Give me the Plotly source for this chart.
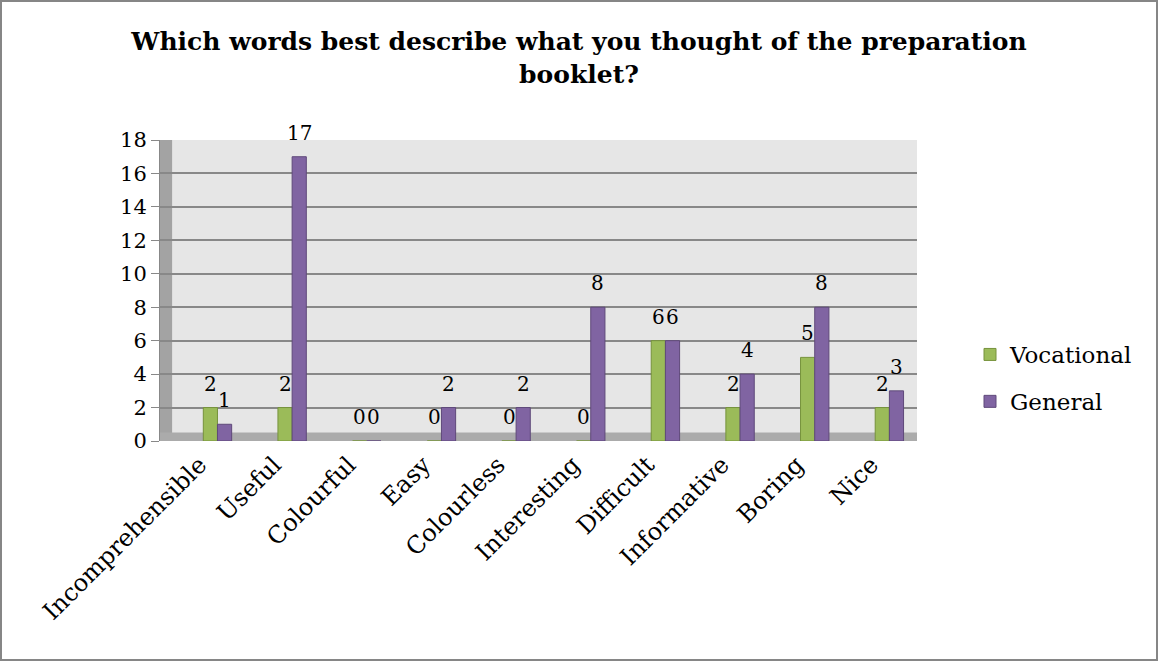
import plotly.graph_objects as go

categories = ["Incomprehensible", "Useful", "Colourful", "Easy", "Colourless",
              "Interesting", "Difficult", "Informative", "Boring", "Nice"]
vocational = [2, 2, 0, 0, 0, 0, 6, 2, 5, 2]
general = [1, 17, 0, 2, 2, 8, 6, 4, 8, 3]
y_ticks = [0, 2, 4, 6, 8, 10, 12, 14, 16, 18]

W, H = 1158, 662
L, R, T, B = 160, 241, 140, 221
pw, ph = W - L - R, H - T - B

def px_x(p):
    return (p - L) / pw

def px_y(p):
    return (H - B - p) / ph

font_main = "DejaVu Serif"

fig = go.Figure()
fig.add_trace(go.Bar(
    name="Vocational", x=categories, y=vocational,
    marker=dict(color="#9BBB59", line=dict(color="#76923C", width=1)),
    legendgroup="a",
))
fig.add_trace(go.Bar(
    name="General", x=categories, y=general,
    marker=dict(color="#8064A2", line=dict(color="#5F497A", width=1)),
    legendgroup="b",
))

annotations = []
for series, xs in ((vocational, -7), (general, 7)):
    for c, v in zip(categories, series):
        annotations.append(dict(
            x=c, y=v, xref="x", yref="y", text=str(v), showarrow=False,
            xshift=xs, yshift=24, yanchor="middle",
            font=dict(family=font_main, size=20, color="#000000"),
        ))

shapes = [
    dict(type="rect", xref="x domain", yref="y domain", x0=0, x1=0.016, y0=0, y1=1,
         fillcolor="#A3A3A3", line=dict(width=0), layer="below"),
    dict(type="rect", xref="x domain", yref="y domain", x0=0, x1=1, y0=0, y1=0.028,
         fillcolor="#ABABAB", line=dict(width=0), layer="below"),
    dict(type="rect", xref="paper", yref="paper",
         x0=px_x(1), x1=px_x(1157), y0=px_y(660), y1=px_y(1),
         line=dict(color="#868686", width=2), fillcolor="rgba(0,0,0,0)", layer="above"),
]

fig.update_layout(
    width=W, height=H,
    margin=dict(l=L, r=R, t=T, b=B, autoexpand=False),
    paper_bgcolor="#FFFFFF",
    plot_bgcolor="#E6E6E6",
    barmode="group", bargap=0.62, bargroupgap=0.0,
    title=dict(
        text="Which words best describe what you thought of the preparation<br>booklet?",
        x=0.5, xanchor="center", xref="container",
        y=1 - 50 / H, yanchor="middle", yref="container",
        font=dict(family=font_main, size=25, color="#000000", weight="bold"),
    ),
    xaxis=dict(
        type="category", range=[-0.77, 9.37],
        tickangle=-45, tickfont=dict(family=font_main, size=24, color="#000000"),
        showgrid=False, showline=False, ticks="", zeroline=False,
        ticklabelshift=-18, ticklabelstandoff=4,
    ),
    yaxis=dict(
        range=[0, 18], tickvals=y_ticks,
        tickfont=dict(family=font_main, size=21, color="#000000"),
        showgrid=True, gridcolor="#888888", gridwidth=2,
        showline=True, linecolor="#888888", linewidth=1,
        ticks="outside", ticklen=8, tickcolor="#888888",
        zeroline=False,
    ),
    legend=dict(
        x=px_x(970), xanchor="left", y=px_y(378), yanchor="middle",
        font=dict(family=font_main, size=23, color="#000000"),
        tracegroupgap=14, bgcolor="rgba(0,0,0,0)",
        itemwidth=30,
    ),
    shapes=shapes,
    annotations=annotations,
    showlegend=True,
)

fig.write_html("out.html", config={"displayModeBar": False},
               post_script="document.body.style.margin='0';")
